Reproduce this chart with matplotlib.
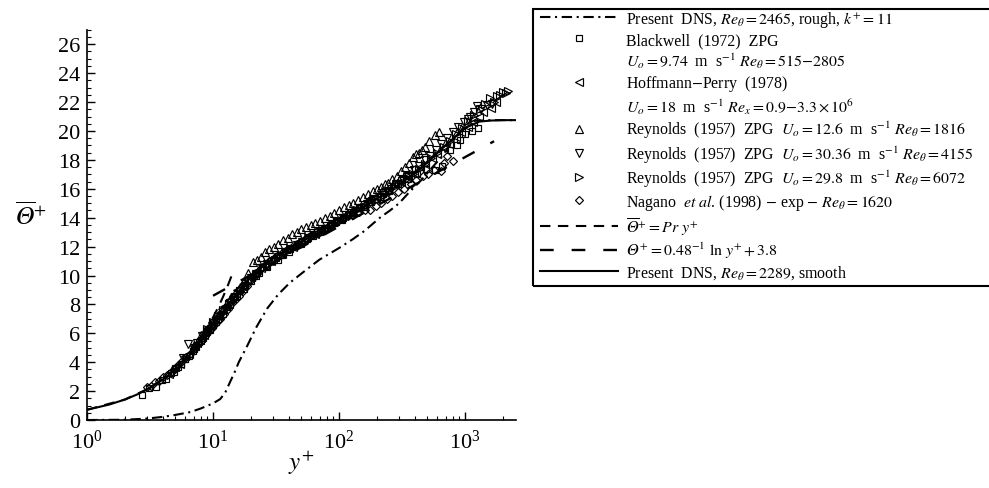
import matplotlib
matplotlib.use("Agg")
import matplotlib.pyplot as plt
from matplotlib.lines import Line2D
from matplotlib.patches import Rectangle
from matplotlib.ticker import MultipleLocator, LogLocator, LogFormatterMathtext, NullFormatter

plt.rcParams['font.family'] = ['Liberation Serif', 'DejaVu Serif']
plt.rcParams['mathtext.fontset'] = 'stix'

# ---------------- data ----------------
# Present DNS, smooth, Re_theta = 2289
smooth_y = [1, 1.5, 2, 2.5, 3, 4, 5, 6, 7, 8, 9, 10, 12, 14, 16, 18, 20, 25, 30, 40, 50, 70,
            100, 150, 200, 300, 400, 500, 700, 1000, 1300, 1600, 2000, 2500]
smooth_t = [0.71, 1.07, 1.42, 1.77, 2.12, 2.8, 3.45, 4.1, 4.8, 5.5, 6.1, 6.6, 7.5, 8.3, 8.9, 9.45,
            9.9, 10.65, 11.2, 11.9, 12.35, 13.0, 13.75, 14.65, 15.3, 16.3, 17.1, 17.8, 19.0, 20.2,
            20.65, 20.72, 20.75, 20.75]

# Present DNS, rough, Re_theta = 2465, k+ = 11
rough_y = [1, 2, 3, 4, 5, 6.6, 8, 10, 11.4, 12.5, 13.6, 15, 16, 18.6, 22, 26.8, 33, 40.7, 55, 70,
           100, 128, 160, 211, 254, 300, 364, 450, 527, 650, 800, 1000, 1200, 1600, 2000, 2500]
rough_t = [0.0, 0.02, 0.1, 0.22, 0.35, 0.55, 0.8, 1.15, 1.45, 1.9, 2.6, 3.4, 4.0, 5.1, 6.4, 7.7,
           8.7, 9.5, 10.4, 11.1, 11.9, 12.5, 13.1, 14.0, 14.5, 15.0, 15.8, 16.6, 17.3, 18.2, 19.3,
           20.4, 20.7, 20.75, 20.75, 20.75]

# Theta+ = Pr y+
pr_y = [1, 2, 3, 4, 5, 6, 7, 8, 9, 10, 11, 12, 13, 14.5]
pr_t = [0.71, 1.42, 2.13, 2.84, 3.55, 4.26, 4.97, 5.68, 6.39, 7.1, 7.81, 8.52, 9.23, 10.3]

# Theta+ = 0.48^-1 ln y+ + 3.8
log_y = [10, 20, 50, 100, 200, 500, 1000, 1700]
log_t = [8.60, 10.04, 11.95, 13.39, 14.84, 16.75, 18.19, 19.29]

# Blackwell (1972) ZPG
bw_y = [2.75, 3.5, 4.2, 4.9, 5.6, 6.4, 7.3, 8.3, 9.4, 10.6, 12, 13.6, 15.5, 17.6, 20, 23, 26.5,
        30.5, 35, 41, 48, 56, 66, 78, 92, 108, 128, 150, 178, 210, 250, 295, 350, 415, 490, 580,
        660, 755, 860, 910, 1000, 1130, 1260,
        5, 6, 7, 8, 9, 10, 11, 13, 15, 18, 22, 27, 33, 40, 50, 62, 76, 95, 118, 145, 180, 225,
        280, 340, 400,
        3.1, 3.9, 4.6, 5.3, 6.0, 6.9, 7.8, 8.8, 10, 11.3, 12.8, 14.5, 16.5, 19, 21.5, 25, 29, 34,
        40, 47, 57, 70, 85, 105, 130, 160, 200, 250, 310]
bw_t = [1.75, 2.3, 2.85, 3.35, 3.85, 4.45, 5.05, 5.7, 6.25, 6.8, 7.35, 7.95, 8.55, 9.1, 9.65,
        10.2, 10.65, 11.05, 11.45, 11.85, 12.2, 12.55, 12.9, 13.3, 13.65, 14.0, 14.4, 14.75, 15.1,
        15.45, 15.85, 16.3, 16.7, 17.0, 17.4, 17.3, 17.6, 18.7, 19.0, 19.4, 19.8, 20.0, 20.2,
        3.6, 4.2, 4.9, 5.5, 6.1, 6.6, 7.0, 7.8, 8.5, 9.3, 10.0, 10.6, 11.1, 11.6, 12.15, 12.7,
        13.15, 13.7, 14.2, 14.7, 15.2, 15.75, 16.3, 16.9, 17.4,
        2.2, 2.75, 3.25, 3.7, 4.2, 4.8, 5.4, 6.0, 6.6, 7.2, 7.8, 8.4, 9.0, 9.6, 10.1, 10.6, 11.0,
        11.4, 11.8, 12.2, 12.6, 13.0, 13.4, 13.85, 14.3, 14.75, 15.3, 15.9, 16.6]

# Hoffmann-Perry (1978)
hp_y = [4.5, 5.5, 6.5, 7.5, 8.5, 9.5, 11, 12.5, 14.5, 17, 20, 24, 29, 35, 43, 53, 65, 80, 100,
        125, 155, 195, 245, 310, 390, 480, 600, 750, 930, 1150, 1400, 1750,
        5, 6, 7, 8, 9, 10, 11.8, 13.5, 15.5, 18.5, 22, 26, 31, 38, 47, 58, 72, 90, 112, 140, 175,
        220, 280, 350, 440, 550, 680, 850, 1050, 1300, 1600]
hp_t = [3.2, 3.9, 4.6, 5.3, 5.9, 6.5, 7.2, 7.9, 8.6, 9.3, 9.9, 10.5, 11.0, 11.5, 12.0, 12.5, 12.9,
        13.4, 13.9, 14.4, 14.9, 15.4, 15.9, 16.5, 17.1, 17.7, 18.4, 19.1, 19.9, 20.6, 21.3, 22.0,
        3.7, 4.4, 5.1, 5.7, 6.3, 6.9, 7.7, 8.3, 9.0, 9.7, 10.3, 10.8, 11.3, 11.8, 12.3, 12.8, 13.2,
        13.7, 14.2, 14.7, 15.2, 15.7, 16.3, 16.9, 17.5, 18.1, 18.8, 19.6, 20.3, 21.0, 21.6]

# Reynolds (1957) ZPG, Re_theta = 1816
r1_y = [8, 9.5, 11, 13, 15, 17.5, 20.8, 24, 28, 33, 39, 46, 55, 65, 77, 92, 110, 130, 155, 185,
        215, 244, 290, 335, 385, 430, 480, 575,
        7, 8.7, 10.2, 12, 14, 16.3, 19, 22.5, 26, 30.5, 36, 42, 50, 60, 71, 85, 100, 120, 142, 170,
        200, 230, 265, 310, 360, 410, 455, 520, 620]
r1_t = [5.9, 6.6, 7.3, 8.1, 8.8, 9.6, 10.9, 11.3, 11.8, 12.2, 12.6, 13.0, 13.35, 13.6, 13.95, 14.35,
        14.75, 15.05, 15.45, 15.85, 16.1, 16.4, 16.9, 17.5, 18.2, 18.5, 18.9, 19.7,
        5.2, 6.2, 7.0, 7.7, 8.5, 9.2, 10.2, 11.1, 11.6, 12.0, 12.45, 12.85, 13.2, 13.5, 13.8, 14.1,
        14.5, 14.85, 15.25, 15.65, 16.0, 16.3, 16.65, 17.2, 17.8, 18.4, 18.7, 19.3, 19.9]

# Reynolds (1957) ZPG, Re_theta = 4155
r2_y = [6.3, 7.5, 9, 10.5, 12.5, 15, 18, 22, 27, 33, 41, 51, 63, 78, 97, 120, 150, 185, 230, 285,
        350, 430, 530, 650, 800, 980, 1100, 1250, 1500,
        5.8, 7, 8.2, 9.8, 11.5, 13.7, 16.5, 20, 24.5, 30, 37, 46, 57, 70, 87, 108, 135, 167, 207,
        257, 320, 390, 480, 590, 720, 880, 1050, 1180, 1350, 1650]
r2_t = [5.25, 5.3, 6.1, 6.8, 7.6, 8.5, 9.3, 10.1, 10.8, 11.3, 11.8, 12.3, 12.8, 13.2, 13.7, 14.2,
        14.7, 15.2, 15.7, 16.3, 16.9, 17.6, 18.3, 19.1, 19.9, 20.6, 21.0, 21.7, 21.8,
        4.3, 5.0, 5.8, 6.5, 7.2, 8.1, 8.9, 9.8, 10.5, 11.0, 11.6, 12.1, 12.6, 13.0, 13.45, 13.95,
        14.45, 14.95, 15.45, 16.0, 16.6, 17.3, 18.0, 18.7, 19.5, 20.3, 20.8, 21.3, 21.5, 21.9]

# Reynolds (1957) ZPG, Re_theta = 6072
r3_y = [9, 11, 13.5, 16.5, 20, 25, 31, 38, 47, 58, 72, 90, 112, 140, 175, 220, 275, 345, 430, 540,
        680, 850, 1060, 1320, 1580, 1790, 2000, 2200,
        10, 12, 15, 18, 22.5, 28, 34.5, 42.5, 52, 65, 80, 100, 125, 157, 197, 247, 310, 385, 480,
        600, 760, 950, 1180, 1450, 1700, 1900, 2100]
r3_t = [6.3, 7.2, 8.0, 8.9, 9.7, 10.5, 11.1, 11.6, 12.1, 12.6, 13.0, 13.5, 14.0, 14.5, 15.0, 15.5,
        16.1, 16.7, 17.4, 18.1, 18.9, 19.8, 20.7, 21.5, 22.3, 22.4, 22.7, 22.8,
        6.8, 7.6, 8.5, 9.3, 10.1, 10.8, 11.35, 11.85, 12.35, 12.8, 13.25, 13.75, 14.25, 14.75,
        15.25, 15.8, 16.4, 17.05, 17.7, 18.5, 19.3, 20.2, 21.1, 21.9, 22.0, 22.5, 22.6]

# Nagano et al. (1998), Re_theta = 1620
ng_y = [3.0, 3.46, 4, 4.6, 5.3, 6.1, 7, 8, 9.2, 10.6, 12.2, 14, 16, 18.5, 21, 24, 28, 33, 39, 46,
        55, 66, 80, 97, 118, 145, 176, 215, 265, 330, 410, 510, 640, 720, 800,
        3.2, 3.7, 4.3, 5.0, 5.7, 6.6, 7.5, 8.6, 9.9, 11.4, 13.1, 15, 17.2, 19.7, 22.5, 26, 30.5,
        36, 42.5, 50, 60, 72, 88, 107, 130, 160, 195, 240, 295, 370, 460, 570, 680]
ng_t = [2.3, 2.6, 2.95, 3.35, 3.8, 4.35, 4.9, 5.5, 6.1, 6.7, 7.35, 8.0, 8.6, 9.3, 9.9, 10.5, 11.0,
        11.4, 11.8, 12.2, 12.6, 13.0, 13.3, 13.7, 14.1, 14.4, 14.5, 15.0, 15.5, 16.0, 16.6, 17.0,
        17.2, 18.3, 17.9,
        2.35, 2.7, 3.1, 3.55, 4.05, 4.6, 5.2, 5.8, 6.4, 7.0, 7.7, 8.3, 8.9, 9.6, 10.2, 10.75, 11.2,
        11.6, 12.0, 12.4, 12.8, 13.15, 13.5, 13.9, 14.2, 14.5, 14.8, 15.3, 15.8, 16.3, 16.9, 17.3,
        17.8]

TH = '\U0001D6E9'  # mathematical italic capital theta
labels = [
    r"Present  DNS, $Re_\theta = 2465$, rough, $k^{+} = 11$",
    r"Blackwell  (1972)  ZPG",
    r"$U_o = 9.74$  m  s$^{-1}$ $Re_\theta = 515{-}2805$",
    r"Hoffmann$-$Perry  (1978)",
    r"$U_o = 18$  m  s$^{-1}$ $Re_x = 0.9{-}3.3 \times 10^6$",
    r"Reynolds  (1957)  ZPG  $U_o = 12.6$  m  s$^{-1}$ $Re_\theta = 1816$",
    r"Reynolds  (1957)  ZPG  $U_o = 30.36$  m  s$^{-1}$ $Re_\theta = 4155$",
    r"Reynolds  (1957)  ZPG  $U_o = 29.8$  m  s$^{-1}$ $Re_\theta = 6072$",
    r"Nagano  $et\ al$. (1998) $-$ exp $-$ $Re_\theta = 1620$",
    r"$\overline{" + TH + r"}^{+} = Pr\ y^{+}$",
    r"$" + TH + r"^{+} = 0.48^{-1}\ \mathrm{ln}\ y^{+} + 3.8$",
    r"Present  DNS, $Re_\theta = 2289$, smooth",
]

# ---------------- figure ----------------
fig = plt.figure(figsize=(9.89, 4.89), dpi=100)
ax = fig.add_axes([0.088, 0.139, 0.434, 0.798])

mk = dict(linestyle='none', mfc='none', mec='black', mew=0.85)
h_rough, = ax.plot(rough_y, rough_t, color='black', lw=1.5, dashes=(5.0, 2.2, 1.0, 2.2))
h_pr, = ax.plot(pr_y, pr_t, color='black', lw=1.5, dashes=(5.0, 3.6))
h_log, = ax.plot(log_y, log_t, color='black', lw=1.7, dashes=(5.8, 7.6))
h_bw, = ax.plot(bw_y, bw_t, marker='s', ms=4.8, **mk)
h_hp, = ax.plot(hp_y, hp_t, marker='<', ms=5.4, **mk)
h_r1, = ax.plot(r1_y, r1_t, marker='^', ms=5.8, **mk)
h_r2, = ax.plot(r2_y, r2_t, marker='v', ms=5.8, **mk)
h_r3, = ax.plot(r3_y, r3_t, marker='>', ms=5.8, **mk)
h_ng, = ax.plot(ng_y, ng_t, marker='D', ms=4.4, **mk)
h_sm, = ax.plot(smooth_y, smooth_t, color='black', lw=1.5)

ax.set_xscale('log')
ax.set_xlim(1, 2550)
ax.set_ylim(0, 27)
for s in ['top', 'right']:
    ax.spines[s].set_visible(False)
for s in ['left', 'bottom']:
    ax.spines[s].set_linewidth(1.2)

ax.yaxis.set_major_locator(MultipleLocator(2))
ax.yaxis.set_minor_locator(MultipleLocator(0.5))
ax.xaxis.set_major_locator(LogLocator(base=10, numticks=10))
ax.xaxis.set_minor_locator(LogLocator(base=10, subs=range(2, 10), numticks=10))
ax.xaxis.set_major_formatter(LogFormatterMathtext())
ax.xaxis.set_minor_formatter(NullFormatter())
ax.tick_params(which='major', direction='in', length=6, width=1.0, labelsize=16)
ax.tick_params(axis='y', which='major', pad=5)
ax.tick_params(axis='x', which='major', pad=7)
ax.tick_params(which='minor', direction='in', length=3, width=0.8)

ax.set_xlabel(r"$y^{+}$", fontsize=18, labelpad=-4)
ax.set_ylabel(r"$\overline{" + TH + r"}^{+}$", fontsize=18, rotation=0)
ax.yaxis.set_label_coords(-0.13, 0.49)

blank = Line2D([], [], linestyle='none')
handles = [h_rough, h_bw, blank, h_hp, blank, h_r1, h_r2, h_r3, h_ng, h_pr, h_log, h_sm]
leg = fig.legend(handles, labels, loc='upper left',
                 bbox_to_anchor=(540 / 989, 1 - 10 / 489),
                 fontsize=11.4, frameon=False,
                 handlelength=4.9, handletextpad=0.5, borderpad=0.0, labelspacing=0.19,
                 numpoints=1, borderaxespad=0)

# legend frame (extends past the right edge of the figure, as in the original)
frame = Rectangle((533 / 989, 1 - 287 / 489), 0.5, 277 / 489, transform=fig.transFigure,
                  fill=False, edgecolor='black', linewidth=1.5, zorder=5)
fig.patches.append(frame)

fig.savefig("out.png", dpi=100)
